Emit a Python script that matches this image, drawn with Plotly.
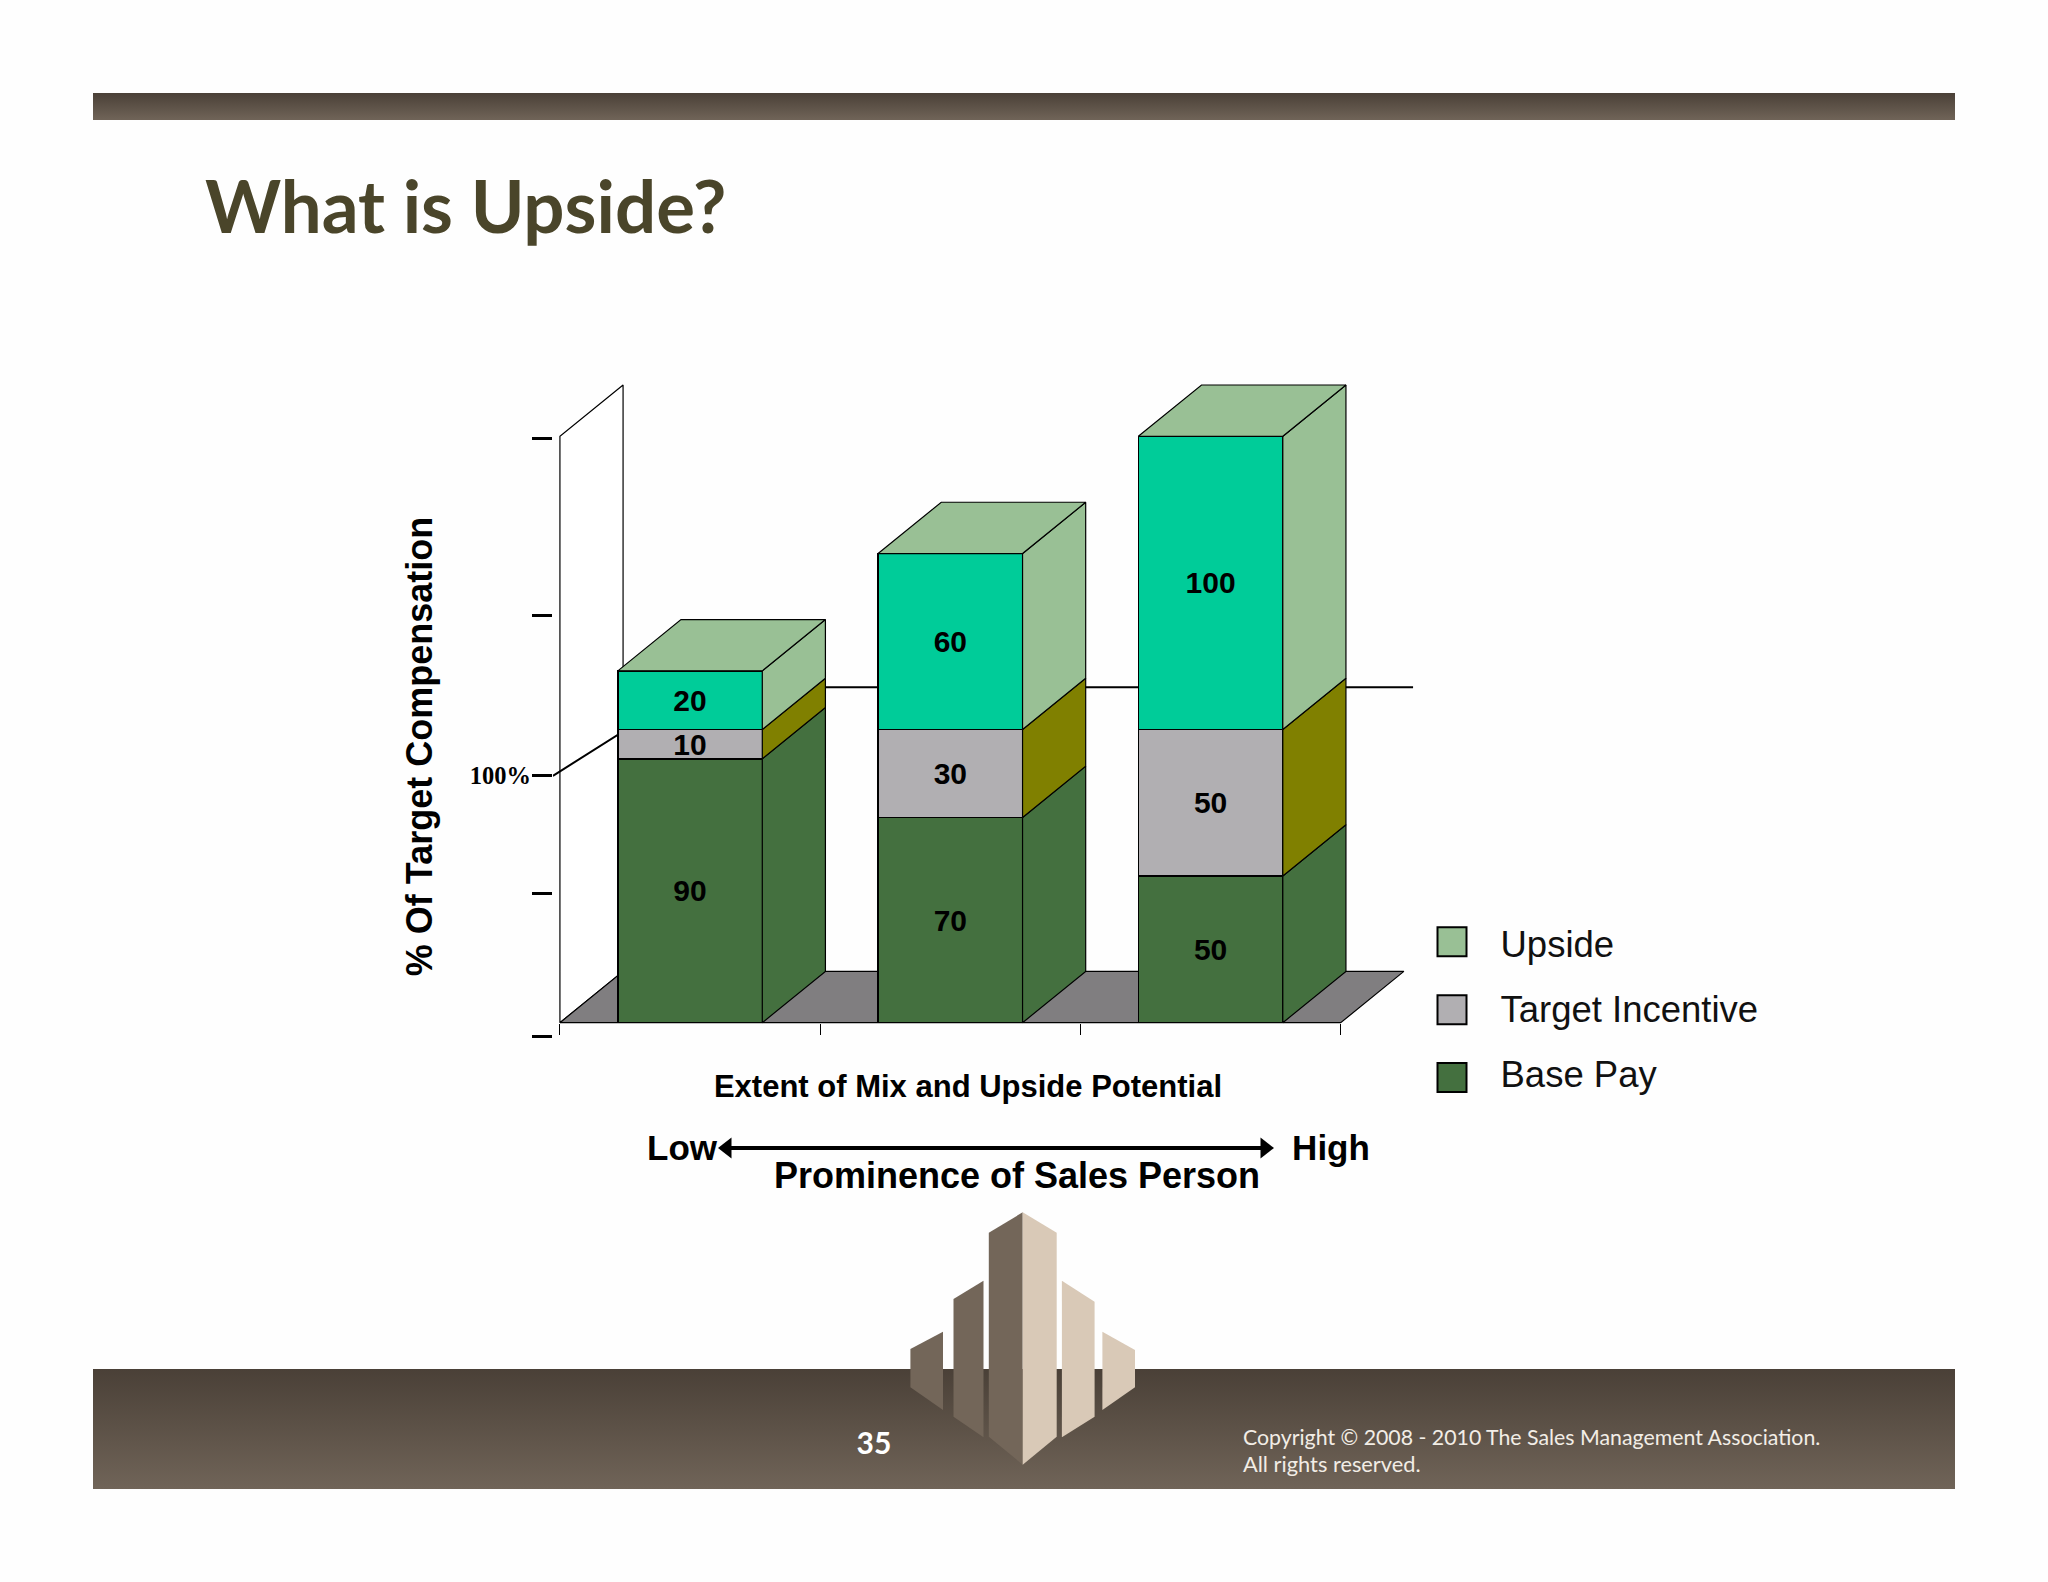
import plotly.graph_objects as go

# ---------- data ----------
categories = [0.5, 1.5, 2.5]
base_pay = [90, 70, 50]
target_incentive = [10, 30, 50]
upside = [20, 60, 100]
series_names = ["Base Pay", "Target Incentive", "Upside"]
axis_tick_values = [-4.7, 43.9, 84.2, 138.75, 199.1]
axis_tick_labels = ["", "", "<b>100%</b>", "", ""]
x_tick_values = [0, 1, 2, 3]
target_line_x = [-0.027, 0.512, 3.278]
target_line_y = [84.2, 114.4, 114.4]

# ---------- style ----------
W, H = 2048, 1582
front_colors = ["#44703F", "#B1AFB2", "#00CC99"]
side_colors = ["#44703F", "#808000", "#99C095"]
top_color = "#99C095"
bar_width = 0.555
depth_x, depth_y = 0.2426, 17.5
wall_top = 200
floor_end = 3
x_range = [-0.027, 3.3]
y_range = [-30.8, 219.2]
plot_box = (552.9, 1418.8, 380.0, 1113.0)  # left, right, top, bottom in page px
y_zero_page = 1022.6
SANS = "Liberation Sans"

fig = go.Figure()


def page_poly(xs, ys, color=None, gradient=None):
    kw = dict(fillgradient=gradient) if gradient else dict(fillcolor=color)
    fig.add_trace(go.Scatter(x=xs, y=ys, mode="lines", fill="toself", line=dict(width=0),
                             hoverinfo="skip", showlegend=False, xaxis="x", yaxis="y", **kw))


def page_text(x, y, text, size, color="black", family=SANS, bold=True, pos="middle center"):
    label = f"<b>{text}</b>" if bold else text
    fig.add_trace(go.Scatter(x=[x], y=[y], mode="text", text=[label], textposition=pos,
                             textfont=dict(size=size, color=color, family=family),
                             hoverinfo="skip", showlegend=False, xaxis="x", yaxis="y"))


# ---------- page decoration ----------
band_scale = [[0, "#706458"], [1, "#4A4037"]]
band_gradient = dict(type="vertical", colorscale=band_scale)
page_poly([93, 1955, 1955, 93, 93], [93, 93, 120, 120, 93], gradient=band_gradient)
page_poly([93, 1955, 1955, 93, 93], [1369, 1369, 1489, 1489, 1369], gradient=band_gradient)

dark, light = "#736659", "#D9C9B7"
towers = [
    ([910.4, 943, 943, 910.4], [1349, 1331.7, 1410, 1387.3], dark),
    ([953.5, 983.5, 983.5, 953.5], [1299, 1280.7, 1437.3, 1416.7], dark),
    ([988.8, 1022.7, 1022.7, 988.8], [1232.7, 1212.3, 1464.7, 1436.7], dark),
    ([1022.7, 1056.7, 1056.7, 1022.7], [1212.3, 1232.7, 1436.7, 1464.7], light),
    ([1061.9, 1094.6, 1094.6, 1061.9], [1280.7, 1301.7, 1416.7, 1437.3], light),
    ([1102.4, 1135, 1135, 1102.4], [1331.7, 1350, 1387.3, 1410], light),
]
for xs, ys, col in towers:
    page_poly(xs + xs[:1], ys + ys[:1], col)

page_text(205, 215, "What is Upside?", 72.6, "#4A452A", "Lato", pos="middle right")
page_text(874, 1446, "35", 30, "white", "Lato")
page_text(1243, 1439.5, "Copyright © 2008 - 2010 The Sales Management Association.", 21.3, "#F2EDE6",
          "Lato", bold=False, pos="middle right")
page_text(1243, 1466.5, "All rights reserved.", 21.8, "#F2EDE6", "Lato", bold=False, pos="middle right")

page_text(968, 1089.5, "Extent of Mix and Upside Potential", 31)
page_text(682, 1151, "Low", 35)
page_text(1331, 1151, "High", 35)
page_text(1017, 1179, "Prominence of Sales Person", 36)
fig.add_trace(go.Scatter(x=[727, 1265], y=[1148, 1148], mode="lines+markers",
                         line=dict(color="black", width=4),
                         marker=dict(symbol=["triangle-left", "triangle-right"], size=18, color="black"),
                         hoverinfo="skip", showlegend=False, xaxis="x", yaxis="y"))

# legend, built with the series names and colours
legend_order = [2, 1, 0]
legend_y = [941.7, 1009.7, 1077.6]
legend_text_y = [948, 1013, 1078]
for idx, ly, ty in zip(legend_order, legend_y, legend_text_y):
    color = top_color if idx == 2 else front_colors[idx]
    fig.add_trace(go.Scatter(x=[1452], y=[ly], mode="markers",
                             marker=dict(symbol="square", size=29, color=color,
                                         line=dict(color="black", width=2)),
                             hoverinfo="skip", showlegend=False, xaxis="x", yaxis="y"))
    page_text(1500.5, ty, series_names[idx], 36.5, "#111111", bold=False, pos="middle right")


# ---------- back of the chart ----------
def chart_poly(xs, ys, color, axes=("x2", "y2"), width=1.2):
    fig.add_trace(go.Scatter(x=xs, y=ys, mode="lines", fill="toself", fillcolor=color,
                             line=dict(color="black", width=width), cliponaxis=False,
                             hoverinfo="skip", showlegend=False, xaxis=axes[0], yaxis=axes[1]))


chart_poly([0, 0, depth_x, depth_x, 0], [0, wall_top, wall_top + depth_y, depth_y, 0], "white")
chart_poly([0, floor_end, floor_end + depth_x, depth_x, 0],
           [0, 0, depth_y, depth_y, 0], "#807E80")
fig.add_trace(go.Scatter(x=target_line_x, y=target_line_y, mode="lines",
                         line=dict(color="black", width=2), cliponaxis=False,
                         hoverinfo="skip", showlegend=False, xaxis="x2", yaxis="y2"))

# ---------- bars ----------
stacks = [base_pay, target_incentive, upside]
for name, vals, col in zip(series_names, stacks, front_colors):
    fig.add_trace(go.Bar(x=categories, y=vals, width=bar_width, name=name,
                         marker=dict(color=col, line=dict(color="black", width=1.5)),
                         text=[f"<b>{v}</b>" for v in vals], textposition="inside",
                         insidetextanchor="middle", constraintext="none", textangle=0,
                         textfont=dict(size=30, color="black", family=SANS),
                         showlegend=False, xaxis="x3", yaxis="y3"))

for i, cat in enumerate(categories):
    left, right = cat - bar_width / 2, cat + bar_width / 2
    level = 0
    for stack, col in zip(stacks, side_colors):
        bottom, level = level, level + stack[i]
        chart_poly([right, right + depth_x, right + depth_x, right, right],
                   [bottom, bottom + depth_y, level + depth_y, level, bottom],
                   col, ("x3", "y3"))
    chart_poly([left, left + depth_x, right + depth_x, right, left],
               [level, level + depth_y, level + depth_y, level, level],
               top_color, ("x3", "y3"))

# ---------- layout ----------
L, R, T, B = plot_box
x_dom = [L / W, R / W]
y_dom = [1 - B / H, 1 - T / H]
hidden = dict(visible=False, fixedrange=True)
fig.update_layout(
    width=W, height=H, margin=dict(l=0, r=0, t=0, b=0, autoexpand=False),
    paper_bgcolor="#FEFEFE", plot_bgcolor="rgba(0,0,0,0)",
    barmode="stack", showlegend=False,
    xaxis=dict(domain=[0, 1], range=[0, W], **hidden),
    yaxis=dict(domain=[0, 1], range=[H, 0], **hidden),
    xaxis2=dict(domain=x_dom, range=x_range, anchor="free", position=1 - y_zero_page / H,
                showgrid=False, zeroline=False, showline=False, ticks="outside", ticklen=11,
                tickwidth=1.2, tickcolor="black", tickmode="array", tickvals=x_tick_values,
                showticklabels=False, fixedrange=True),
    yaxis2=dict(domain=y_dom, range=y_range, anchor="x2", side="left",
                showgrid=False, zeroline=False, showline=False, ticks="outside", ticklen=20,
                tickwidth=2.5, tickcolor="black", tickmode="array", tickvals=axis_tick_values,
                ticktext=axis_tick_labels, fixedrange=True, ticklabelstandoff=-4,
                tickfont=dict(size=24.5, color="black", family="Liberation Serif"),
                title=dict(text="<b>% Of Target Compensation</b>", standoff=26,
                           font=dict(size=36, color="black", family=SANS))),
    xaxis3=dict(overlaying="x2", range=x_range, anchor="y3", **hidden),
    yaxis3=dict(overlaying="y2", range=y_range, anchor="x3", **hidden),
)

fig.write_html("out.html", config=dict(displayModeBar=False),
               post_script="document.body.style.margin='0';")
